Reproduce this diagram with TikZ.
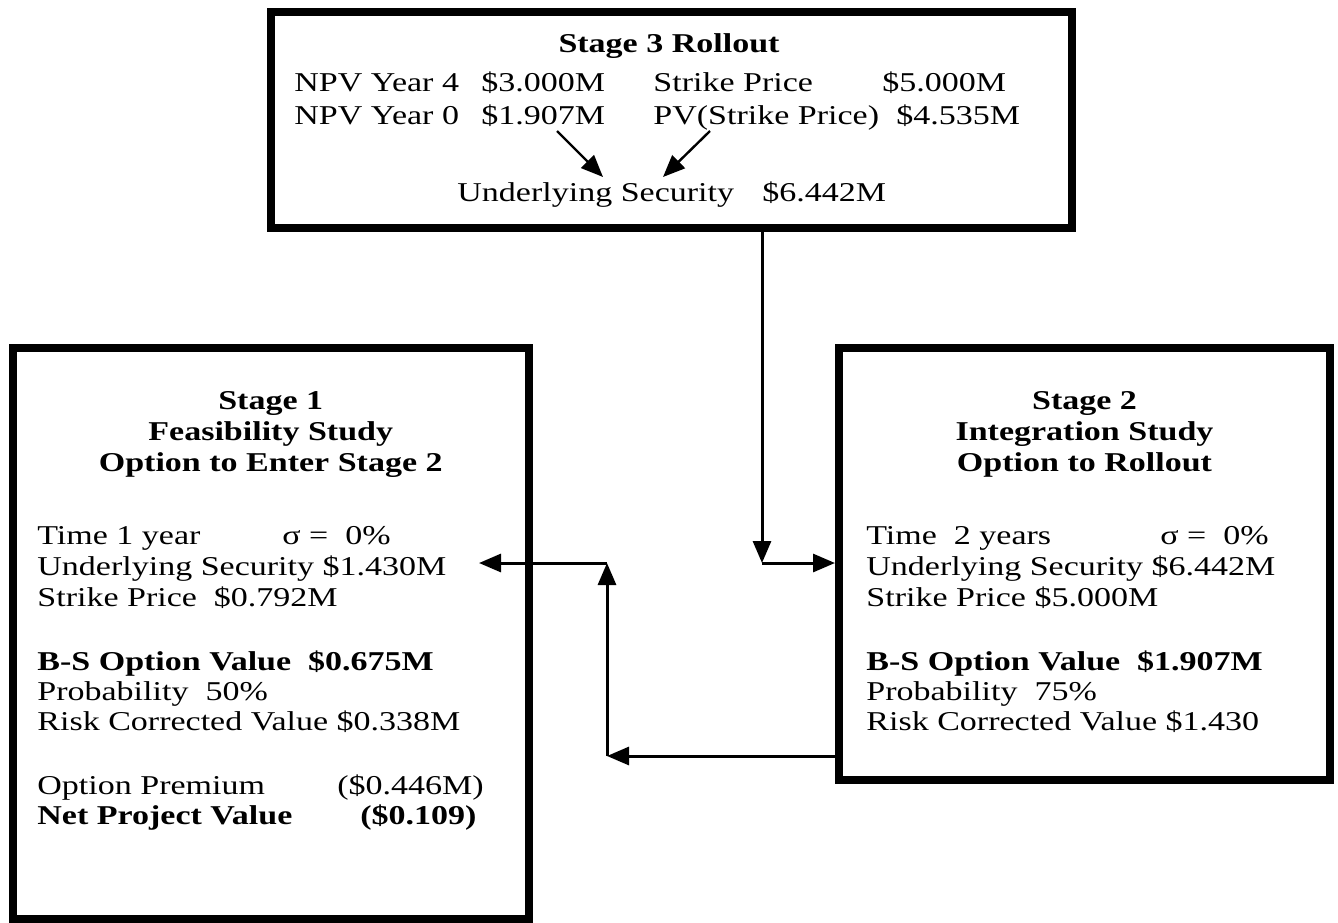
\documentclass[tikz,border=0pt]{standalone}
\usepackage{fontspec}
\setmainfont{Liberation Serif}[FakeStretch=1.25]
\usetikzlibrary{arrows.meta}
\begin{document}
\begin{tikzpicture}[x=0.5pt,y=-0.5pt,
  frame/.style={draw, line width=4pt, inner sep=0pt},
  txt/.style={inner sep=0pt, anchor=base west, font=\fontsize{13.6}{15}\selectfont},
  btxt/.style={txt, font=\fontsize{13.6}{15}\selectfont\bfseries},
  ttl/.style={inner sep=0pt, anchor=base, font=\fontsize{13.6}{15}\selectfont\bfseries},
  link/.style={line width=1.5pt, -{Triangle[length=11pt,width=9pt]}},
  flow/.style={line width=1.2pt, -{Triangle[length=11pt,width=9pt]}},
]
\useasboundingbox (0,0) rectangle (1338,922);

% ---- the three stage boxes ----
\node[frame, minimum width=400.5pt, minimum height=108pt] (s3) at (671.5,120) {};
\node[frame, minimum width=258.25pt, minimum height=285.5pt] (s1) at (270.75,633.5) {};
\node[frame, minimum width=245.5pt, minimum height=216pt] (s2) at (1084.5,564) {};

% ---- Stage 3 ----
\node[ttl] (s3t) at (669,52) {Stage 3 Rollout};
\node[txt] (s3a) at (294,91) {NPV Year 4};
\node[txt] (s3b) at (481,91) {\$3.000M};
\node[txt] (s3c) at (653,91) {Strike Price};
\node[txt] (s3d) at (882,91) {\$5.000M};
\node[txt] (s3e) at (294,124) {NPV Year 0};
\node[txt] (s3f) at (481,124) {\$1.907M};
\node[txt] (s3g) at (653,124) {PV(Strike Price)};
\node[txt] (s3h) at (896,124) {\$4.535M};
\node[txt] (s3i) at (457,201) {Underlying Security};
\node[txt] (s3j) at (762,201) {\$6.442M};
\coordinate (f1) at (557,131);
\coordinate (f2) at (710,131);
\coordinate (g1) at (603,177);
\coordinate (g2) at (663,177);
\draw[flow] (f1) -- (g1);
\draw[flow] (f2) -- (g2);

% ---- Stage 1 ----
\node[ttl] (s1t1) at (270.75,409) {Stage 1};
\node[ttl] (s1t2) at (270.75,440) {Feasibility Study};
\node[ttl] (s1t3) at (270.75,471) {Option to Enter Stage 2};
\node[txt] (s1a) at (37,544) {Time 1 year};
\node[txt] (s1b) at (282,544) {σ =~~0\%};
\node[txt] (s1c) at (37,575) {Underlying Security \$1.430M};
\node[txt] (s1d) at (37,606) {Strike Price~~\$0.792M};
\node[btxt] (s1e) at (37,670) {B-S Option Value~~\$0.675M};
\node[txt] (s1f) at (37,700) {Probability~~50\%};
\node[txt] (s1g) at (37,730) {Risk Corrected Value \$0.338M};
\node[txt] (s1h) at (37,794) {Option Premium};
\node[txt] (s1i) at (337,794) {(\$0.446M)};
\node[btxt] (s1j) at (37,824) {Net Project Value};
\node[btxt] (s1k) at (360,824) {(\$0.109)};

% ---- Stage 2 ----
\node[ttl] (s2t1) at (1084.5,409) {Stage 2};
\node[ttl] (s2t2) at (1084.5,440) {Integration Study};
\node[ttl] (s2t3) at (1084.5,471) {Option to Rollout};
\node[txt] (s2a) at (866,544) {Time~~2 years};
\node[txt] (s2b) at (1160,544) {σ =~~0\%};
\node[txt] (s2c) at (866,575) {Underlying Security \$6.442M};
\node[txt] (s2d) at (866,606) {Strike Price \$5.000M};
\node[btxt] (s2e) at (866,670) {B-S Option Value~~\$1.907M};
\node[txt] (s2f) at (866,700) {Probability~~75\%};
\node[txt] (s2g) at (866,730) {Risk Corrected Value \$1.430};

% ---- connectors ----
\coordinate (j1) at (762,563);
\coordinate (j2) at (607,756);
\coordinate (j3) at (607,563);
\coordinate (t1) at (479,563);
\draw[link] (s3.south -| j1) -- (j1);
\draw[link] (j1) -- (s2.west |- j1);
\draw[link] (s2.west |- j2) -- (j2);
\draw[link] (j2) -- (j3);
\draw[link] (j3) -- (t1);
\end{tikzpicture}
\end{document}
